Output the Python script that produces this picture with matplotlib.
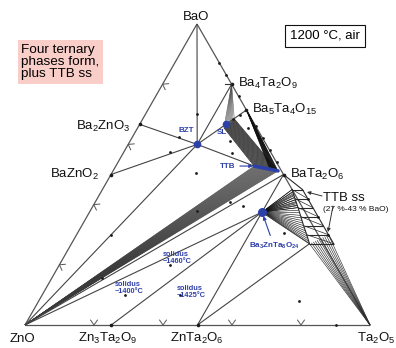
import numpy as np
import matplotlib
matplotlib.use("Agg")
import matplotlib.pyplot as plt

plt.rcParams['font.family'] = ['Liberation Sans', 'DejaVu Sans']
plt.rcParams['mathtext.fontset'] = 'custom'
plt.rcParams['mathtext.rm'] = 'Liberation Sans'
plt.rcParams['mathtext.bf'] = 'Liberation Sans:bold'

# compositions as (BaO, ZnO, Ta2O5) mole fractions
BaO = (1, 0, 0)
ZnO = (0, 1, 0)
Ta2O5 = (0, 0, 1)
Ba4Ta2O9 = (0.8, 0, 0.2)
Ba5Ta4O15 = (5 / 7, 0, 2 / 7)
BaTa2O6 = (0.5, 0, 0.5)
Ba2ZnO3 = (2 / 3, 1 / 3, 0)
BaZnO2 = (0.5, 0.5, 0)
Zn3Ta2O9 = (0, 0.75, 0.25)
ZnTa2O6 = (0, 0.5, 0.5)
BZT = (0.6, 0.2, 0.2)            # Ba3ZnTa2O9
SL = (8 / 12, 1 / 12, 3 / 12)    # Ba8ZnTa6O24
B3ZT8 = (3 / 8, 1 / 8, 4 / 8)    # Ba3ZnTa8O24

# solid solution end members
ttb_ends = [(0.528, 0.071, 0.401), (0.512, 0.01, 0.478)]
sl_ends = [(0.655, 0.095, 0.25), (0.685, 0.05, 0.265)]
ba5_ends = [(0.714, 0.0, 0.286), (0.70, 0.0, 0.30)]
ttbss_inner = [(0.45, 0.0, 0.55), (0.42, 0.007, 0.573), (0.39, 0.013, 0.597),
               (0.36, 0.02, 0.62), (0.33, 0.027, 0.643), (0.30, 0.033, 0.667),
               (0.27, 0.04, 0.69)]
ttbss_outer = [(0.45, -0.03, 0.58), (0.42, -0.03, 0.61), (0.39, -0.03, 0.64),
               (0.36, -0.03, 0.67), (0.33, -0.03, 0.70), (0.30, -0.03, 0.73),
               (0.27, -0.03, 0.76)]

# sample compositions (black dots)
samples = [(0.87, 0, 0.13), (0.83, 0, 0.17), (0.76, 0, 0.24),
           (0.66, 0, 0.34), (0.62, 0, 0.38), (0.58, 0, 0.42), (0.54, 0, 0.46),
           (0.654, 0.026, 0.32), (0.61, 0.10, 0.29), (0.505, 0.25, 0.245),
           (0.70, 0.15, 0.15), (0.625, 0.24, 0.135), (0.575, 0.29, 0.135),
           (0.57, 0.115, 0.315), (0.30, 0.60, 0.10), (0.156, 0.70, 0.144),
           (0.20, 0.48, 0.32), (0.10, 0.66, 0.24), (0.10, 0.50, 0.40),
           (0.41, 0.20, 0.39), (0.395, 0.17, 0.435), (0.38, 0.31, 0.31),
           (0.305, 0.095, 0.60), (0.08, 0.165, 0.755), (0, 0.1, 0.9),
           (0.683, 0.055, 0.262), (0.698, 0.028, 0.274)]

# liquidus direction marks along the BaO-ZnO and ZnO-Ta2O5 edges
edge_marks = [0.2, 0.4, 0.6, 0.8]

# corners on the page (pixels)
P_BAO, P_ZNO, P_TA = (197, 24), (25, 325), (370, 325)
LINE = '#444444'
BLUE = '#2d40a8'


def xy(c):
    a, z, t = c
    s = a + z + t
    return ((a * P_BAO[0] + z * P_ZNO[0] + t * P_TA[0]) / s,
            (a * P_BAO[1] + z * P_ZNO[1] + t * P_TA[1]) / s)


def mix(c1, c2, f):
    return tuple((1 - f) * p + f * q for p, q in zip(c1, c2))


def tie(c1, c2, lw=0.8, color=LINE, **kw):
    p, q = xy(c1), xy(c2)
    ax.plot([p[0], q[0]], [p[1], q[1]], color=color, lw=lw,
            solid_capstyle='butt', **kw)


def fan(src, dst, n, lw=0.4, color='#303030'):
    for f in np.linspace(0, 1, n):
        tie(mix(src[0], src[1], f), mix(dst[0], dst[1], f), lw=lw, color=color)


fig = plt.figure(figsize=(3.96, 3.48), dpi=100)
ax = fig.add_axes([0, 0, 1, 1])
ax.set_xlim(0, 396)
ax.set_ylim(348, 0)
ax.axis('off')

# triangle
for c1, c2 in [(BaO, ZnO), (ZnO, Ta2O5), (Ta2O5, BaO)]:
    tie(c1, c2, lw=0.9, color='#555555')

# chevrons on the edges
for f in edge_marks:
    for pt, d, n in [(mix(ZnO, BaO, f), np.array([0.496, -0.868]), np.array([0.868, 0.496])),
                     (mix(ZnO, Ta2O5, f), np.array([1.0, 0.0]), np.array([0.0, -1.0]))]:
        p = np.array(xy(pt))
        a1 = p + 6 * (0.82 * n + 0.57 * d)
        a2 = p + 6 * (0.82 * n - 0.57 * d)
        ax.plot([a1[0], p[0], a2[0]], [a1[1], p[1], a2[1]], color='#555555', lw=0.7)

# tie-line fans
fan([ZnO, ZnO], ttb_ends, 30, lw=0.4, color='#3a3a3a')
fan(sl_ends, ttb_ends, 24, lw=0.5, color='#262626')
fan(ba5_ends, [(0.52, 0.03, 0.45), ttb_ends[1]], 14, lw=0.5, color='#111111')
fan([Ba4Ta2O9, Ba4Ta2O9], sl_ends, 9, lw=0.4, color='#505050')
fan([B3ZT8, B3ZT8], [ttbss_inner[0], ttbss_inner[-1]], 22, lw=0.45, color='#202020')
fan([B3ZT8, B3ZT8], [ttbss_inner[0], ttbss_inner[2]], 10, lw=0.45, color='#101010')
fan([Ta2O5, Ta2O5], [ttbss_inner[-1], ttbss_outer[-2]], 11, lw=0.45, color='#303030')

# tie lines
for c1, c2 in [(BaO, BZT), (Ba2ZnO3, BZT), (BaZnO2, BZT), (ZnO, BZT),
               (BZT, Ba4Ta2O9), (BZT, SL), (BZT, ttb_ends[0]), (SL, Ba5Ta4O15),
               (ZnO, B3ZT8), (ZnO, BaTa2O6), (Zn3Ta2O9, B3ZT8), (ZnTa2O6, B3ZT8),
               (ZnTa2O6, ttbss_inner[-1]), (BaTa2O6, B3ZT8),
               (B3ZT8, ttbss_inner[-1])]:
    tie(c1, c2)

# TTB ss ladder
for col in (ttbss_inner, ttbss_outer):
    pts = np.array([xy(c) for c in col])
    ax.plot(pts[:, 0], pts[:, 1], color='#2a2a2a', lw=0.8)
for i in range(len(ttbss_inner)):
    tie(ttbss_inner[i], ttbss_outer[i], lw=0.8, color='#2a2a2a')
    if i + 1 < len(ttbss_inner):
        tie(ttbss_inner[i], ttbss_outer[i + 1], lw=0.5, color='#2a2a2a')
tie(BaTa2O6, ttbss_outer[0], lw=0.8, color='#2a2a2a')

# sample points and phase points
pts = np.array([xy(c) for c in samples + ttbss_outer[1::2]])
ax.plot(pts[:, 0], pts[:, 1], 'o', ms=2.0, color='#1a1a1a', mew=0)
phases = [Ba4Ta2O9, Ba5Ta4O15, BaTa2O6, Ba2ZnO3, BaZnO2, Zn3Ta2O9, ZnTa2O6]
pts = np.array([xy(c) for c in phases])
ax.plot(pts[:, 0], pts[:, 1], 'o', ms=2.6, color='#1a1a1a', mew=0)
p = xy(Ba4Ta2O9)
ax.plot([p[0] - 7, p[0] - 1], [p[1], p[1]], color='#333333', lw=0.8)

# blue phases
p, q = xy(ttb_ends[0]), xy(ttb_ends[1])
ax.plot([p[0], q[0]], [p[1], q[1]], color=BLUE, lw=2.6, solid_capstyle='round')
for c, ms in [(BZT, 5.5), (SL, 5.5), (B3ZT8, 6.5)]:
    p = xy(c)
    ax.plot(p[0], p[1], 'o', ms=ms, color=BLUE, mew=0)

bl = dict(color=BLUE, fontweight='bold')
ax.text(186, 130, 'BZT', fontsize=5.8, ha='center', va='center', **bl)
ax.text(222, 132, 'SL', fontsize=5.8, ha='center', va='center', **bl)
ax.annotate('TTB', xy=xy(ttb_ends[0]), xytext=(228, 166), fontsize=5.8,
            ha='center', va='center',
            arrowprops=dict(arrowstyle='-|>', color=BLUE, lw=0.8,
                            mutation_scale=5, shrinkA=1, shrinkB=1), **bl)
ax.annotate(r'$\mathbf{Ba_3ZnTa_8O_{24}}$', xy=xy(B3ZT8), xytext=(274, 246),
            fontsize=5.8, ha='center', va='center',
            arrowprops=dict(arrowstyle='-|>', color=BLUE, lw=0.8,
                            mutation_scale=5, shrinkA=2, shrinkB=3), **bl)
for x, y, s in [(163, 258, 'solidus\n~1460°C'), (115, 288, 'solidus\n~1400°C'),
                (177, 292, 'solidus\n~1425°C')]:
    ax.text(x, y, s, fontsize=5.3, ha='left', va='center', linespacing=0.95, **bl)

# phase labels
lab = dict(fontsize=9.5, color='#111111')
ax.text(196, 20, 'BaO', ha='center', va='baseline', **lab)
ax.text(238, 87, r'$\mathregular{Ba_4Ta_2O_9}$', ha='left', va='baseline', **lab)
ax.text(252, 113, r'$\mathregular{Ba_5Ta_4O_{15}}$', ha='left', va='baseline', **lab)
ax.text(290, 178, r'$\mathregular{BaTa_2O_6}$', ha='left', va='baseline', **lab)
ax.text(130, 130, r'$\mathregular{Ba_2ZnO_3}$', ha='right', va='baseline', **lab)
ax.text(99, 178, r'$\mathregular{BaZnO_2}$', ha='right', va='baseline', **lab)
ax.text(22, 342, 'ZnO', ha='center', va='baseline', **lab)
ax.text(108, 342, r'$\mathregular{Zn_3Ta_2O_9}$', ha='center', va='baseline', **lab)
ax.text(197, 342, r'$\mathregular{ZnTa_2O_6}$', ha='center', va='baseline', **lab)
ax.text(376, 342, r'$\mathregular{Ta_2O_5}$', ha='center', va='baseline', **lab)
ax.text(323, 201, 'TTB ss', ha='left', va='baseline', **lab)
ax.text(323, 211, '(27 %-43 % BaO)', ha='left', va='baseline', fontsize=6,
        color='#111111')
for tip, src in [((307, 192), (322, 196)), ((328, 232), (333, 206))]:
    ax.annotate('', xy=tip, xytext=src,
                arrowprops=dict(arrowstyle='-|>', color='#333333', lw=0.7,
                                mutation_scale=5, shrinkA=0, shrinkB=0))

ax.text(325, 36, '1200 °C, air', ha='center', va='center', fontsize=9.5,
        bbox=dict(boxstyle='square,pad=0.38', fc='white', ec='#111111', lw=0.8))
ax.text(21, 62, 'Four ternary\nphases form,\nplus TTB ss', ha='left', va='center',
        fontsize=9.7, linespacing=1.05,
        bbox=dict(boxstyle='square,pad=0.25', fc='#f9cdc8', ec='none'))

fig.savefig('out.png', dpi=100)
